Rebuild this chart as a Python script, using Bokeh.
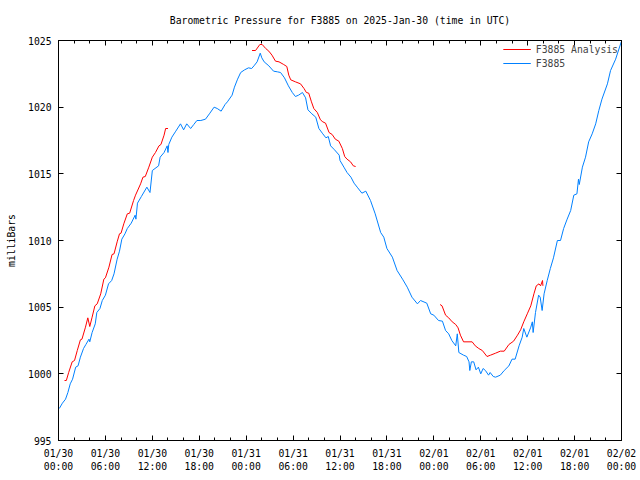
import math
from bokeh.plotting import figure
from bokeh.models import Range1d, FixedTicker, LinearAxis, Legend, LegendItem, ColumnDataSource
from bokeh.embed import file_html
from bokeh.resources import INLINE

# ---- data (hours since 2025-01-30 00:00 UTC, millibars) ----
obs_hours = [0.1, 0.5, 0.9, 1.2, 1.5, 1.8, 2.2, 2.5, 2.8, 3.2, 3.5, 3.9, 4.0, 4.3, 4.7, 4.9, 5.3, 5.6,
             6.0, 6.4, 6.8, 7.1, 7.5, 7.8, 8.1, 8.5, 8.8, 9.3, 9.8, 9.9, 10.1, 10.6, 11.3, 11.7, 12.0,
             12.8, 13.0, 13.5, 13.9, 14.0, 14.1, 14.5, 15.0, 15.6, 16.0, 16.4, 16.9, 17.3, 17.7, 18.2,
             18.8, 19.3, 19.9, 20.3, 20.8, 21.3, 21.6, 22.2, 22.5, 22.9, 23.3, 23.8, 24.3, 24.7, 25.0,
             25.4, 25.8, 26.0, 26.3, 26.9, 27.5, 28.0, 28.4, 28.9, 29.4, 29.9, 30.3, 30.7, 31.2, 31.6,
             31.9, 32.4, 32.9, 33.3, 33.8, 34.2, 34.5, 34.8, 35.3, 35.9, 36.0, 36.5, 36.9, 37.4, 37.8,
             38.2, 38.8, 39.3, 39.9, 40.5, 41.2, 41.6, 42.0, 42.7, 43.3, 44.0, 44.6, 45.2, 45.9, 46.3,
             47.1, 47.6, 48.0, 48.6, 49.1, 49.5, 49.9, 50.3, 50.8, 51.0, 51.2, 51.8, 52.2, 52.5, 52.6,
             52.8, 53.1, 53.4, 53.7, 54.0, 54.3, 54.6, 55.0, 55.2, 55.6, 55.9, 56.5, 57.0, 57.6, 58.0,
             58.4, 58.9, 59.3, 59.5, 59.9, 60.4, 60.6, 60.7, 61.0, 61.4, 61.6, 61.85, 62.1, 62.5, 62.9,
             63.3, 63.8, 64.2, 64.6, 65.05, 65.5, 65.9, 66.3, 66.5, 66.6, 67.0, 67.4, 67.8, 68.25, 68.7,
             69.1, 69.5, 70.2, 70.6, 71.25, 71.97]
obs_mb = [997.4, 997.8, 998.1, 998.6, 999.25, 999.6, 1000.5, 1000.6, 1001.25, 1001.9, 1002.2, 1002.6,
          1002.4, 1003.1, 1003.75, 1004.6, 1004.9, 1005.5, 1005.9, 1006.75, 1007.0, 1007.5, 1008.6,
          1009.2, 1010.1, 1010.5, 1010.9, 1011.3, 1011.9, 1011.6, 1012.8, 1013.3, 1014.0, 1013.6,
          1015.25, 1015.6, 1016.25, 1016.6, 1017.1, 1016.6, 1017.2, 1017.75, 1018.2, 1018.75, 1018.3,
          1018.75, 1018.4, 1018.7, 1019.0, 1019.0, 1019.1, 1019.5, 1020.0, 1019.9, 1019.7, 1020.2,
          1020.4, 1020.9, 1021.5, 1022.1, 1022.6, 1022.8, 1022.95, 1022.9, 1023.1, 1023.4, 1024.05,
          1023.7, 1023.4, 1023.1, 1022.7, 1022.65, 1022.6, 1022.2, 1021.6, 1021.1, 1020.8, 1020.9,
          1021.1, 1020.7, 1019.8, 1019.5, 1019.25, 1018.4, 1018.0, 1017.7, 1017.8, 1017.1, 1016.8,
          1016.4, 1016.0, 1015.5, 1015.1, 1014.75, 1014.3, 1014.0, 1013.55, 1013.7, 1013.0, 1012.0,
          1010.6, 1010.25, 1009.4, 1008.75, 1007.75, 1007.1, 1006.5, 1005.75, 1005.25, 1005.5, 1005.3,
          1004.5, 1004.4, 1004.0, 1003.95, 1003.25, 1003.0, 1002.5, 1002.1, 1003.0, 1001.6, 1001.4,
          1001.3, 1000.9, 1000.25, 1000.9, 1000.9, 1000.3, 1000.5, 1000.0, 1000.4, 1000.25, 999.9,
          1000.1, 999.8, 999.75, 999.9, 1000.25, 1000.6, 1001.1, 1001.1, 1002.1, 1002.75, 1003.4,
          1002.75, 1003.5, 1003.9, 1003.1, 1004.6, 1005.9, 1005.75, 1004.75, 1006.0, 1007.0, 1007.9,
          1008.7, 1010.0, 1010.0, 1010.9, 1011.6, 1012.25, 1013.4, 1013.5, 1014.6, 1014.2, 1015.5,
          1016.25, 1017.4, 1018.0, 1018.75, 1019.75, 1020.6, 1021.75, 1022.75, 1023.6, 1024.9]

nan = float("nan")
ana_hours = [0.77, 1.0, 1.3, 1.75, 2.05, 2.4, 2.8, 3.0, 3.45, 3.75, 4.0, 4.3, 4.65, 4.95, 5.4, 5.8, 6.0,
             6.45, 6.85, 7.1, 7.5, 7.8, 8.0, 8.35, 8.8, 9.1, 9.6, 9.85, 10.5, 10.8, 11.1, 11.55, 12.0,
             12.4, 12.85, 13.1, 13.5, 13.7, 14.0,
             19.0,
             24.75, 25.2, 25.75, 26.05, 26.5, 26.9, 27.3, 27.75, 28.2, 28.8, 29.2, 29.45, 29.7, 30.3,
             30.95, 31.4, 31.7, 32.0, 32.35, 32.65, 33.1, 33.5, 33.8, 34.15, 34.6, 35.0, 35.4, 35.85,
             36.3, 36.6, 36.9, 37.35, 37.7, 38.0,
             43.0,
             48.8, 49.05, 49.5, 49.9, 50.35, 50.8, 51.1, 51.4, 51.8, 52.9, 53.3, 53.75, 54.2, 54.8,
             55.25, 55.9, 56.5, 57.0, 57.6, 58.2, 58.7, 59.1, 59.5, 59.95, 60.4, 60.8, 61.1, 61.45,
             61.65, 61.9, 61.95]
ana_mb = [999.5, 999.5, 1000.1, 1000.9, 1001.0, 1001.75, 1002.55, 1002.6, 1003.5, 1004.2, 1003.55,
          1004.25, 1005.1, 1005.25, 1006.0, 1007.1, 1007.2, 1008.0, 1008.95, 1009.0, 1009.9, 1010.5,
          1010.55, 1011.25, 1012.0, 1012.05, 1013.0, 1013.4, 1014.25, 1014.75, 1014.8, 1015.5,
          1016.25, 1016.6, 1017.1, 1017.2, 1017.9, 1018.4, 1018.4,
          nan,
          1024.25, 1024.25, 1024.7, 1024.7, 1024.4, 1024.2, 1023.9, 1023.45, 1023.4, 1023.2, 1023.05,
          1022.4, 1022.05, 1021.9, 1021.75, 1021.4, 1021.1, 1021.05, 1020.4, 1019.9, 1019.6, 1019.05,
          1018.9, 1018.8, 1018.1, 1017.95, 1017.6, 1017.45, 1016.9, 1016.3, 1016.1, 1015.9, 1015.6,
          1015.55,
          nan,
          1005.2, 1005.1, 1004.4, 1004.2, 1003.9, 1003.7, 1003.45, 1002.9, 1002.4, 1002.4, 1002.1,
          1001.9, 1001.75, 1001.3, 1001.4, 1001.55, 1001.7, 1001.7, 1002.2, 1002.45, 1002.9, 1003.3,
          1003.9, 1004.5, 1005.1, 1006.0, 1006.6, 1006.75, 1006.6, 1007.0, 1006.6]

x_tick_hours = [0, 6, 12, 18, 24, 30, 36, 42, 48, 54, 60, 66, 72]
x_tick_labels = ["01/30\n00:00", "01/30\n06:00", "01/30\n12:00", "01/30\n18:00",
                 "01/31\n00:00", "01/31\n06:00", "01/31\n12:00", "01/31\n18:00",
                 "02/01\n00:00", "02/01\n06:00", "02/01\n12:00", "02/01\n18:00",
                 "02/02\n00:00"]
x_minor_hours = list(range(0, 73, 2))
y_ticks = [995, 1000, 1005, 1010, 1015, 1020, 1025]

title_text = "Barometric Pressure for F3885 on 2025-Jan-30 (time in UTC)"
y_label = "milliBars"
series_names = ["F3885 Analysis", "F3885"]
series_colors = ["#ff0000", "#0080ff"]

FONT = "DejaVu Sans Mono"
FS = "9.75px"

p = figure(width=640, height=480, output_backend="svg", toolbar_location=None,
           x_range=Range1d(0, 72), y_range=Range1d(995, 1025),
           min_border_left=58, min_border_right=19, min_border_top=40, min_border_bottom=40)
p.title.text = title_text
p.title.align = "center"
p.title.vertical_align = "top"
p.title.text_font = FONT
p.title.text_font_size = FS
p.title.text_font_style = "normal"
p.title.text_color = "black"
p.title.standoff = 25

p.xgrid.visible = False
p.ygrid.visible = False
p.outline_line_color = "black"
p.outline_line_width = 1
p.background_fill_color = "white"
p.border_fill_color = "white"

xt = FixedTicker(ticks=x_tick_hours, minor_ticks=x_minor_hours)
yt = FixedTicker(ticks=y_ticks, minor_ticks=[])

def style_axis(ax, show_labels=True):
    ax.major_tick_in = 5
    ax.major_tick_out = 0
    ax.minor_tick_in = 3
    ax.minor_tick_out = 0
    ax.axis_line_color = "black"
    ax.major_tick_line_color = "black"
    ax.minor_tick_line_color = "black"
    ax.major_label_text_font = FONT
    ax.major_label_text_font_size = FS if show_labels else "0px"
    ax.major_label_text_color = "black"
    ax.major_label_standoff = 7 if show_labels else 0
    ax.axis_label_text_font = FONT
    ax.axis_label_text_font_size = FS
    ax.axis_label_text_font_style = "normal"
    ax.axis_label_text_color = "black"

xa = p.xaxis[0]
xa.ticker = xt
xa.major_label_overrides = {h: lab for h, lab in zip(x_tick_hours, x_tick_labels)}
style_axis(xa)

ya = p.yaxis[0]
ya.ticker = yt
ya.axis_label = y_label
style_axis(ya)
ya.axis_label_standoff = 8

top = LinearAxis(ticker=xt)
style_axis(top, False)
top.major_label_overrides = {h: "" for h in x_tick_hours}
p.add_layout(top, "above")

right = LinearAxis(ticker=yt)
style_axis(right, False)
right.major_label_overrides = {v: "" for v in y_ticks}
p.add_layout(right, "right")

src_a = ColumnDataSource(dict(x=ana_hours, y=ana_mb))
src_o = ColumnDataSource(dict(x=obs_hours, y=obs_mb))
r_a = p.line("x", "y", source=src_a, line_color=series_colors[0], line_width=1)
r_o = p.line("x", "y", source=src_o, line_color=series_colors[1], line_width=1)

legend = Legend(items=[LegendItem(label=series_names[0], renderers=[r_a]),
                       LegendItem(label=series_names[1], renderers=[r_o])],
                location="top_right")
legend.label_text_font = FONT
legend.label_text_font_size = FS
legend.border_line_color = None
legend.background_fill_alpha = 0
legend.glyph_width = 28
legend.glyph_height = 12
legend.label_height = 12
legend.spacing = 2
legend.padding = 4
legend.margin = 3
p.add_layout(legend, "center")

open("out.html", "w").write(file_html(p, INLINE))
